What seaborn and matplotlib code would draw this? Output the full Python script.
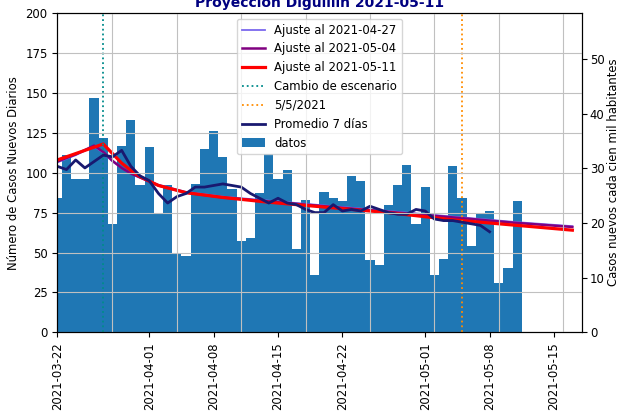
import matplotlib
matplotlib.use("Agg")
import matplotlib.pyplot as plt
import matplotlib.dates as mdates
from matplotlib.ticker import FixedLocator
import seaborn as sns
import pandas as pd

# ----------------------------------------------------------------------
# Datos
# ----------------------------------------------------------------------
fechas_datos = pd.date_range("2021-03-22", "2021-05-11", freq="D")
casos = [84, 111, 96, 96, 147, 122, 68, 117, 133, 92,
         116, 75, 92, 49, 48, 93, 115, 126, 110, 90,
         57, 59, 87, 112, 96, 102, 52, 83, 36, 88,
         84, 82, 98, 95, 45, 42, 80, 92, 105, 68,
         91, 36, 46, 104, 84, 54, 74, 76, 31, 40,
         82]

# promedio movil 7 dias (hasta 2021-05-08)
fechas_prom = pd.date_range("2021-03-22", "2021-05-08", freq="D")
prom_7dias = [104, 102, 108, 103, 107, 111, 110, 114, 104, 98,
              95, 87, 81, 85, 87, 91, 91, 92, 93, 92,
              91, 87, 84, 81, 84, 81, 80, 77, 75, 75,
              80, 76, 77, 76, 79, 77, 75, 74, 74, 77,
              76, 71, 70, 70, 69, 68, 67, 63]

# curvas de ajuste (valores muestreados)
fechas_ajuste = pd.to_datetime([
    "2021-03-22", "2021-03-24", "2021-03-26", "2021-03-27", "2021-03-28",
    "2021-03-29", "2021-03-30", "2021-03-31", "2021-04-02", "2021-04-05",
    "2021-04-09", "2021-04-14", "2021-04-20", "2021-04-27", "2021-05-04",
    "2021-05-11", "2021-05-17"])
ajuste_0427 = [106.5, 111, 116.5, 112.5, 107, 103, 99.5, 97, 92.5, 88,
               85, 82.5, 79.5, 76, 72.5, 69, 66.5]
ajuste_0504 = [107, 111.5, 117, 113, 107.5, 103, 99.5, 97, 92, 87.5,
               84.5, 82, 79, 75.5, 72, 68.5, 66]
ajuste_0511 = [108, 112, 116, 118, 112, 106, 101.5, 97.5, 92, 87.5,
               84.5, 81.5, 78.5, 75, 70.5, 67, 64]

fecha_cambio = "2021-03-27"
fecha_5_5 = "2021-05-05"

ticks_x = ["2021-03-22", "2021-04-01", "2021-04-08", "2021-04-15",
           "2021-04-22", "2021-05-01", "2021-05-08", "2021-05-15"]
grid_x = ["2021-03-28", "2021-04-04", "2021-04-11", "2021-04-18",
          "2021-04-25", "2021-05-02", "2021-05-09", "2021-05-16"]

poblacion = 342500

# ----------------------------------------------------------------------
# Figura
# ----------------------------------------------------------------------
plt.rcParams["font.size"] = 8.4

fig = plt.figure(figsize=(6.2, 4.11), dpi=100)
ax = fig.add_axes([0.0924, 0.1915, 0.8456, 0.7765])

sns.lineplot(x=fechas_ajuste, y=ajuste_0427, ax=ax, color="mediumslateblue",
             lw=1.3, label="Ajuste al 2021-04-27")
sns.lineplot(x=fechas_ajuste, y=ajuste_0504, ax=ax, color="purple",
             lw=1.8, label="Ajuste al 2021-05-04")
sns.lineplot(x=fechas_ajuste, y=ajuste_0511, ax=ax, color="red",
             lw=2.3, label="Ajuste al 2021-05-11")
ax.axvline(pd.Timestamp(fecha_cambio), color="darkcyan", ls=":", lw=1.3,
           label="Cambio de escenario")
ax.axvline(pd.Timestamp(fecha_5_5), color="darkorange", ls=":", lw=1.3,
           label="5/5/2021")
sns.lineplot(x=fechas_prom, y=prom_7dias, ax=ax, color="midnightblue",
             lw=2.0, label="Promedio 7 días")
ax.bar(fechas_datos, casos, width=1.0, color="#1f77b4", label="datos")

ax.set_xlim(pd.Timestamp("2021-03-22"), pd.Timestamp("2021-05-18"))
ax.set_ylim(0, 200)
ax.set_yticks(range(0, 201, 25))

ax.set_xticks(pd.to_datetime(ticks_x))
ax.xaxis.set_major_formatter(mdates.DateFormatter("%Y-%m-%d"))
ax.xaxis.set_minor_locator(FixedLocator(mdates.date2num(pd.to_datetime(grid_x))))
ax.tick_params(axis="x", which="minor", length=0)
plt.setp(ax.get_xticklabels(), rotation=90)

ax.set_axisbelow(False)
ax.grid(True, axis="y", which="major", color="#c0c0c0", lw=0.8)
ax.grid(True, axis="x", which="minor", color="#c0c0c0", lw=0.8)

ax.set_xlabel("")
ax.set_ylabel("Número de Casos Nuevos Diarios")
ax.set_title("Proyección Diguillín 2021-05-11", color="navy",
             fontweight="bold", fontsize=10, pad=4.5)

ax.legend(loc="upper center", fontsize=8.4)

ax2 = ax.twinx()
ax2.set_ylim(0, 200 * 100000 / poblacion)
ax2.set_yticks(range(0, 51, 10))
ax2.tick_params(axis="y", pad=2.5)
ax2.set_ylabel("Casos nuevos cada cien mil habitantes", labelpad=1.5)

fig.savefig("out.png", dpi=100)
